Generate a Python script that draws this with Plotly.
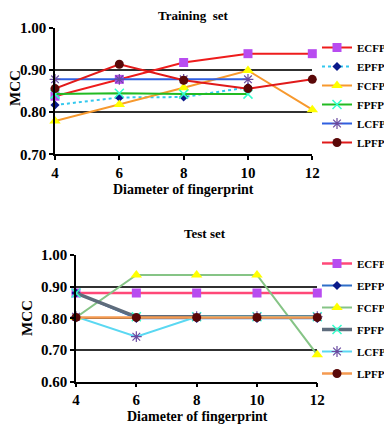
import plotly.graph_objects as go

# diameter of fingerprint
diameters = [4, 6, 8, 10, 12]
fp_names = ['ECFP', 'EPFP', 'FCFP', 'FPFP', 'LCFP', 'LPFP']

# training set MCC
train_ecfp = [0.838, 0.878, 0.918, 0.939, 0.939]
train_epfp = [0.817, 0.835, 0.836, 0.859, None]
train_fcfp = [0.779, 0.818, 0.858, 0.899, 0.806]
train_fpfp = [0.843, 0.845, 0.843, 0.843, None]
train_lcfp = [0.878, 0.878, 0.878, 0.878, None]
train_lpfp = [0.856, 0.914, 0.876, 0.856, 0.878]

# test set MCC
test_ecfp = [0.880, 0.880, 0.880, 0.880, 0.880]
test_epfp = [0.880, 0.800, 0.800, 0.800, 0.800]
test_fcfp = [0.803, 0.937, 0.937, 0.937, 0.685]
test_fpfp = [0.880, 0.805, 0.805, 0.805, 0.805]
test_lcfp = [0.805, 0.742, 0.805, 0.805, 0.805]
test_lpfp = [0.803, 0.803, 0.803, 0.803, 0.803]

FONT = 'Liberation Serif'

# page has an 8px body margin, so size the figure to the visible window
W, H, OFF = 384, 417, 8


def px(x):
    return (x - OFF) / W


def py(y):
    return 1 - (y - OFF) / H


marker_styles = {
    'ECFP': dict(symbol='square', color='#b84cf0', size=9),
    'EPFP': dict(symbol='diamond', color='#0a1a8a', size=7),
    'FCFP': dict(symbol='triangle-up', color='#ffff00', size=10),
    'FPFP': dict(symbol='x-thin-open', color='#33ffcc', size=9, line=dict(width=1.5, color='#33ffcc')),
    'LCFP': dict(symbol='asterisk-open', color='#6a4aa0', size=9, line=dict(width=1.2, color='#6a4aa0')),
    'LPFP': dict(symbol='circle', color='#5a0808', size=9),
}

train_lines = {
    'ECFP': dict(color='#ee1c1c', width=2),
    'EPFP': dict(color='#33c8ee', width=2, dash='dot'),
    'FCFP': dict(color='#f7992e', width=2),
    'FPFP': dict(color='#22bb22', width=2),
    'LCFP': dict(color='#2f5fe0', width=2),
    'LPFP': dict(color='#e01a1a', width=2),
}
test_lines = {
    'ECFP': dict(color='#ff4878', width=2.5),
    'EPFP': dict(color='#2f6fc8', width=2),
    'FCFP': dict(color='#86c486', width=2),
    'FPFP': dict(color='#5e6c7c', width=3.5),
    'LCFP': dict(color='#5ad8f2', width=2),
    'LPFP': dict(color='#f59a50', width=2.5),
}

train_values = [train_ecfp, train_epfp, train_fcfp, train_fpfp, train_lcfp, train_lpfp]
test_values = [test_ecfp, test_epfp, test_fcfp, test_fpfp, test_lcfp, test_lpfp]

fig = go.Figure()

for name, vals in zip(fp_names, train_values):
    fig.add_trace(go.Scatter(
        x=diameters, y=vals, name=name, mode='lines+markers',
        line=train_lines[name], marker=marker_styles[name],
        xaxis='x', yaxis='y', legend='legend', cliponaxis=False,
    ))

for name, vals in zip(fp_names, test_values):
    fig.add_trace(go.Scatter(
        x=diameters, y=vals, name=name, mode='lines+markers',
        line=test_lines[name], marker=marker_styles[name],
        xaxis='x2', yaxis='y2', legend='legend2', cliponaxis=False,
        legendgroup='test_' + name,
    ))

tick_font = dict(family=FONT, size=15, color='black', weight='bold')
axis_common = dict(
    showline=True, linecolor='black', linewidth=1.5,
    ticks='outside', ticklen=4, tickcolor='black', tickwidth=1.5,
    tickfont=tick_font, zeroline=False,
)
legend_font = dict(family=FONT, size=11, color='black', weight='bold')

fig.update_layout(
    width=W, height=H,
    margin=dict(l=0, r=0, t=0, b=0, autoexpand=False),
    paper_bgcolor='white', plot_bgcolor='white',
    font=dict(family=FONT, color='black'),
    xaxis=dict(domain=[px(55), px(312.3)], anchor='y', range=[4, 12],
               tickvals=diameters, showgrid=False, **axis_common),
    yaxis=dict(domain=[py(154.3), py(28)], anchor='x', range=[0.70, 1.00],
               dtick=0.1, tickformat='.2f', showgrid=True,
               gridcolor='#303030', gridwidth=1.5, **axis_common),
    xaxis2=dict(domain=[px(76), px(317.3)], anchor='y2', range=[4, 12],
                tickvals=diameters, showgrid=False, **axis_common),
    yaxis2=dict(domain=[py(381.7), py(255)], anchor='x2', range=[0.60, 1.00],
                dtick=0.1, tickformat='.2f', showgrid=True,
                gridcolor='#303030', gridwidth=1.5, **axis_common),
    legend=dict(x=px(317), y=py(33), xanchor='left', yanchor='top',
                itemwidth=30, tracegroupgap=0, font=legend_font,
                bgcolor='rgba(0,0,0,0)'),
    legend2=dict(x=px(317), y=py(249), xanchor='left', yanchor='top',
                 itemwidth=30, tracegroupgap=3, font=legend_font,
                 bgcolor='rgba(0,0,0,0)'),
    showlegend=True,
)

title_font = dict(family=FONT, size=13, color='black', weight='bold')
label_font = dict(family=FONT, size=14, color='black', weight='bold')
mcc_font = dict(family=FONT, size=15, color='black', weight='bold')
annotations = [
    dict(text='Training  set', x=px(193), y=py(16), font=title_font),
    dict(text='Test set', x=px(205), y=py(234), font=title_font),
    dict(text='Diameter of fingerprint', x=px(183), y=py(189), font=label_font),
    dict(text='Diameter of fingerprint', x=px(197), y=py(416), font=label_font),
    dict(text='MCC', x=px(15), y=py(88), textangle=-90, font=mcc_font),
    dict(text='MCC', x=px(27), y=py(318), textangle=-90, font=mcc_font),
]
for a in annotations:
    fig.add_annotation(xref='paper', yref='paper', xanchor='center', yanchor='middle',
                       showarrow=False, **a)

fig.write_html("out.html")
